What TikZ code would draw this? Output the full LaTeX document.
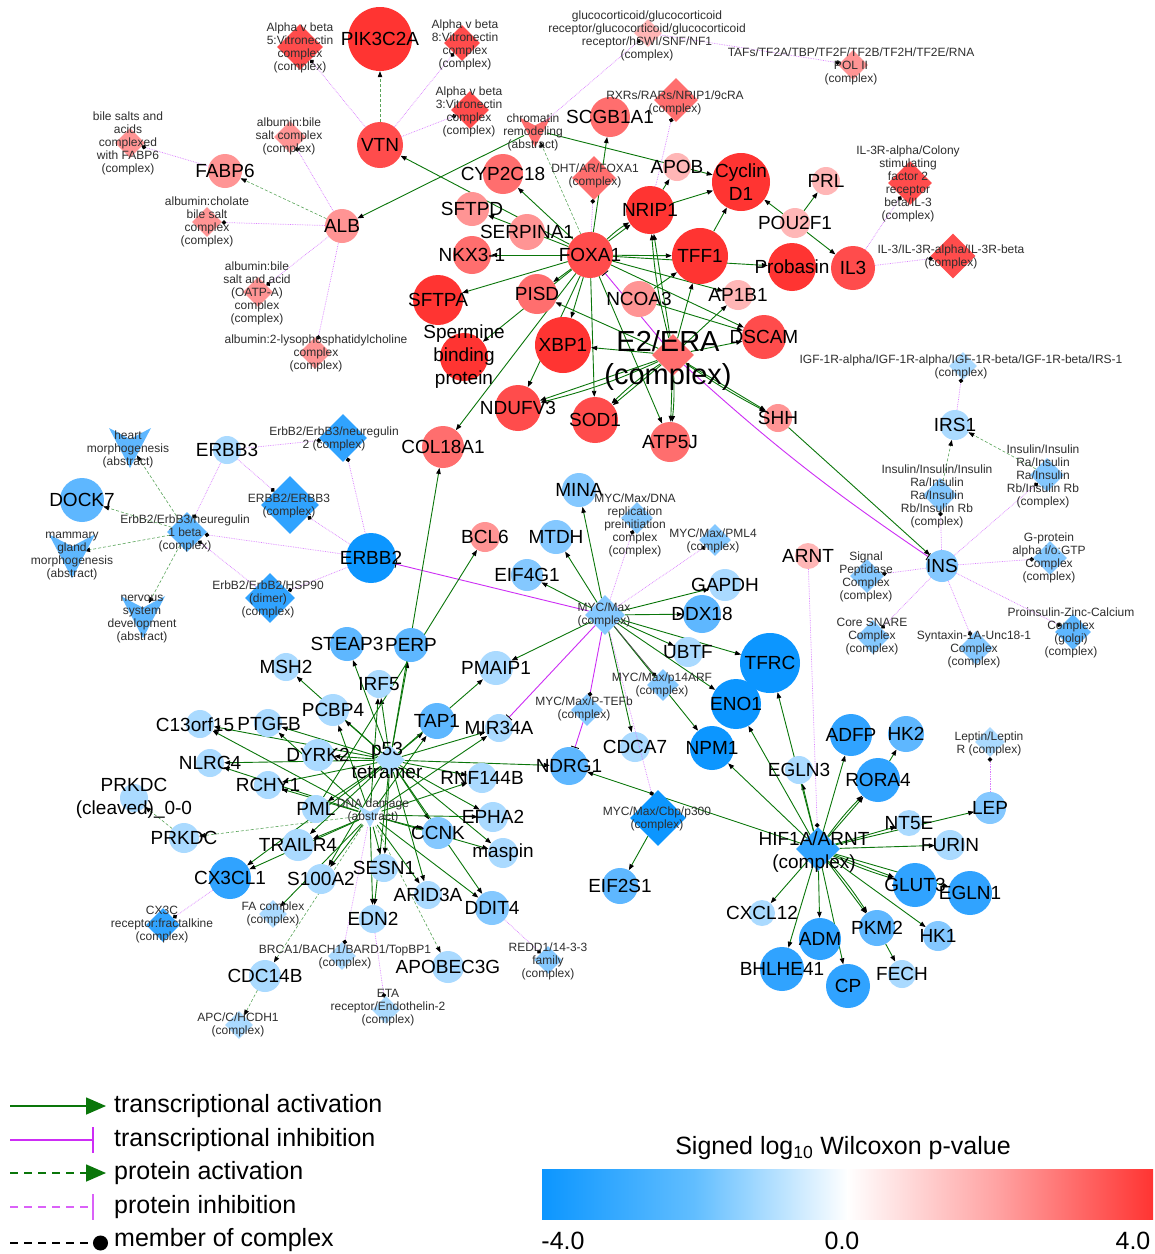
\documentclass[tikz,border=0pt]{standalone}
\usepackage{fontspec}
\setmainfont{Liberation Sans}
\usetikzlibrary{shapes.geometric,arrows.meta}
\pgfdeclarelayer{background}
\pgfdeclarelayer{fg}
\pgfsetlayers{background,main,fg}
\definecolor{rA}{RGB}{255,182,182}
\definecolor{rB}{RGB}{255,148,148}
\definecolor{rC}{RGB}{255,110,110}
\definecolor{rD}{RGB}{255,76,76}
\definecolor{rE}{RGB}{255,52,50}
\definecolor{bA}{RGB}{170,218,255}
\definecolor{bB}{RGB}{132,200,255}
\definecolor{bC}{RGB}{94,183,255}
\definecolor{bD}{RGB}{48,163,255}
\definecolor{bE}{RGB}{12,150,255}
\definecolor{tgreen}{RGB}{10,118,10}
\definecolor{pgreen}{RGB}{90,165,90}
\definecolor{tmag}{RGB}{205,45,245}
\definecolor{mmag}{RGB}{218,125,255}
\definecolor{cbB}{RGB}{98,190,255}
\definecolor{crB}{RGB}{255,160,160}
\tikzset{
 gc/.style={circle,draw=none,inner sep=0pt},
 dia/.style={diamond,draw=none,inner sep=0pt,aspect=1},
 inv/.style={circle,draw=none,inner sep=0pt,minimum size=24pt},
 glab/.style={font=\fontsize{19}{23}\selectfont,align=center,inner sep=0pt,text=black},
 slab/.style={font=\fontsize{12}{13}\selectfont,align=center,inner sep=0pt,text=black!82},
 bigl/.style={font=\fontsize{29}{33}\selectfont,align=center,inner sep=0pt,text=black},
 legl/.style={font=\fontsize{25}{28}\selectfont,anchor=west,inner sep=0pt,text=black},
 ta/.style={draw=tgreen,line width=0.9pt,-{Triangle[length=6pt,width=4.5pt,color=black]}},
 pa/.style={draw=pgreen,line width=0.6pt,densely dashed,-{Triangle[length=6pt,width=4.5pt,color=black]}},
 ti/.style={draw=tmag,line width=0.9pt,-{Bar[width=8pt,color=black]}},
 mem/.style={draw=mmag,line width=0.7pt,densely dotted,-{Circle[length=4.5pt,color=black]}},
}
\newcommand{\GeneN}[6]{\node[gc,minimum size=#4pt,fill=#5] (#1) at (#2,#3) {};%
 \begin{pgfonlayer}{fg}\node[glab] (#1-l) at (#2,#3) {#6};\end{pgfonlayer}}
\newcommand{\CplxN}[8]{\node[dia,minimum size=#4pt,fill=#5] (#1) at (#2,#3) {};%
 \begin{pgfonlayer}{fg}\node[slab] (#1-l) at (#6,#7) {#8};\end{pgfonlayer}}
\newcommand{\AbsN}[8]{\begin{scope}[shift={(#2,#3)},scale=#4]\fill[#5] (-21,-17) -- (0,-6) -- (21,-17) -- (0,23) -- cycle;\end{scope}%
 \node[inv] (#1) at (#2,#3) {};%
 \begin{pgfonlayer}{fg}\node[slab] (#1-l) at (#6,#7) {#8};\end{pgfonlayer}}
\begin{document}
\begin{tikzpicture}[x=1pt,y=-1pt]
\useasboundingbox (0,0) rectangle (1155,1254);
\begin{pgfonlayer}{background}
\fill[white] (0,0) rectangle (1155,1254);
\end{pgfonlayer}

% ---------------- red cluster ----------------
\GeneN{pik}{380}{39}{64}{rE}{PIK3C2A}
\GeneN{vtn}{380}{145}{46}{rD}{VTN}
\GeneN{fabp}{225}{171}{34}{rB}{FABP6}
\GeneN{alb}{342}{226}{34}{rB}{ALB}
\CplxN{avbfive}{300}{47}{46}{rD}{300}{48}{Alpha v beta\\5:Vitronectin\\complex\\(complex)}
\CplxN{avbeight}{462}{43}{36}{rD}{465}{45}{Alpha v beta\\8:Vitronectin\\complex\\(complex)}
\CplxN{avbthree}{470}{110}{38}{rD}{469}{112}{Alpha v beta\\3:Vitronectin\\complex\\(complex)}
\CplxN{bile}{130}{143}{30}{rB}{128}{143}{bile salts and\\acids\\complexed\\with FABP6\\(complex)}
\CplxN{albA}{290}{137}{32}{rB}{289}{136}{albumin:bile\\salt complex\\(complex)}
\CplxN{albB}{207}{222}{30}{rB}{207}{222}{albumin:cholate\\bile salt\\complex\\(complex)}
\CplxN{albC}{258}{292}{30}{rB}{257}{293}{albumin:bile\\salt and acid\\(OATP-A)\\complex\\(complex)}
\CplxN{albD}{315}{353}{32}{rB}{316}{353}{albumin:2-lysophosphatidylcholine\\complex\\(complex)}
\CplxN{gluc}{648}{33}{28}{rA}{647}{36}{glucocorticoid/glucocorticoid\\receptor/glucocorticoid/glucocorticoid\\receptor/hSWI/SNF/NF1\\(complex)}
\CplxN{taf}{853}{65}{30}{rB}{851}{66}{TAFs/TF2A/TBP/TF2F/TF2B/TF2H/TF2E/RNA\\POL II\\(complex)}
\CplxN{rxr}{676}{100}{44}{rC}{675}{103}{RXRs/RARs/NRIP1/9cRA\\(complex)}
\AbsN{chrom}{535}{130}{0.75}{rC}{533}{132}{chromatin\\remodeling\\(abstract)}
\GeneN{scgb}{610}{117}{40}{rC}{SCGB1A1}
\GeneN{cyp}{503}{174}{40}{rC}{CYP2C18}
\CplxN{dht}{594}{178}{44}{rC}{595}{176}{DHT/AR/FOXA1\\(complex)}
\GeneN{apob}{677}{167}{28}{rA}{APOB}
\GeneN{cyc}{741}{182}{58}{rE}{Cyclin\\D1}
\GeneN{nrip}{650}{210}{48}{rE}{NRIP1}
\GeneN{prl}{826}{181}{28}{rA}{PRL}
\GeneN{pou}{795}{223}{30}{rA}{POU2F1}
\GeneN{sftpd}{472}{209}{34}{rB}{SFTPD}
\GeneN{serp}{527}{232}{36}{rB}{SERPINA1}
\GeneN{nkx}{472}{255}{38}{rC}{NKX3-1}
\GeneN{foxa}{590}{255}{46}{rD}{FOXA1}
\GeneN{tff}{700}{256}{56}{rE}{TFF1}
\GeneN{prob}{792}{267}{48}{rE}{Probasin}
\GeneN{il3}{853}{268}{44}{rD}{IL3}
\CplxN{ilcA}{910}{183}{44}{rD}{908}{184}{IL-3R-alpha/Colony\\stimulating\\factor 2\\receptor\\beta/IL-3\\(complex)}
\CplxN{ilcB}{953}{256}{45}{rD}{951}{257}{IL-3/IL-3R-alpha/IL-3R-beta\\(complex)}
\GeneN{sftpa}{438}{300}{50}{rE}{SFTPA}
\GeneN{pisd}{537}{294}{40}{rC}{PISD}
\GeneN{ncoa}{639}{299}{36}{rB}{NCOA3}
\GeneN{apb}{738}{295}{30}{rA}{AP1B1}
\GeneN{xbp}{563}{345}{56}{rE}{XBP1}
\GeneN{sperm}{464}{357}{48}{rE}{Spermine\\binding\\protein}
\GeneN{dscam}{764}{337}{44}{rD}{DSCAM}
\node[dia,minimum size=42pt,fill=rC] (e2) at (673,355) {};
\begin{pgfonlayer}{fg}\node[bigl] (e2-l) at (668,360) {E2/ERA\\(complex)};\end{pgfonlayer}
\GeneN{ndufv}{518}{408}{46}{rD}{NDUFV3}
\GeneN{sod}{595}{420}{46}{rD}{SOD1}
\GeneN{atp}{670}{442}{40}{rC}{ATP5J}
\GeneN{col}{443}{447}{42}{rC}{COL18A1}
\GeneN{shh}{778}{418}{28}{rB}{SHH}

% ---------------- insulin cluster ----------------
\CplxN{igf}{963}{366}{28}{bA}{961}{367}{IGF-1R-alpha/IGF-1R-alpha/IGF-1R-beta/IGF-1R-beta/IRS-1\\(complex)}
\GeneN{irs}{955}{425}{30}{bA}{IRS1}
\CplxN{inscA}{940}{495}{34}{bB}{937}{496}{Insulin/Insulin/Insulin\\Ra/Insulin\\Ra/Insulin\\Rb/Insulin Rb\\(complex)}
\CplxN{inscB}{1047}{475}{34}{bB}{1043}{476}{Insulin/Insulin\\Ra/Insulin\\Ra/Insulin\\Rb/Insulin Rb\\(complex)}
\GeneN{ins}{942}{566}{32}{bB}{INS}
\CplxN{gprot}{1050}{558}{34}{bB}{1049}{558}{G-protein\\alpha i/o:GTP\\Complex\\(complex)}
\CplxN{sigp}{867}{576}{34}{bB}{866}{577}{Signal\\Peptidase\\Complex\\(complex)}
\CplxN{snare}{873}{637}{34}{bB}{872}{637}{Core SNARE\\Complex\\(complex)}
\CplxN{synt}{976}{648}{34}{bB}{974}{649}{Syntaxin-1A-Unc18-1\\Complex\\(complex)}
\CplxN{proins}{1073}{632}{36}{bC}{1071}{633}{Proinsulin-Zinc-Calcium\\Complex\\(golgi)\\(complex)}
\GeneN{arnt}{808}{556}{26}{rA}{ARNT}

% ---------------- ERBB cluster ----------------
\AbsN{heart}{130}{445}{1}{bC}{128}{449}{heart\\morphogenesis\\(abstract)}
\GeneN{erbbt}{227}{450}{28}{bA}{ERBB3}
\CplxN{nrgtwo}{343}{438}{48}{bD}{334}{439}{ErbB2/ErbB3/neuregulin\\2 (complex)}
\GeneN{dock}{82}{500}{44}{bC}{DOCK7}
\CplxN{erbbc}{290}{505}{58}{bD}{289}{506}{ERBB2/ERBB3\\(complex)}
\CplxN{nrgone}{187}{532}{40}{bC}{185}{533}{ErbB2/ErbB3/neuregulin\\1 beta\\(complex)}
\AbsN{mamm}{72}{553}{1.1}{bC}{72}{556}{mammary\\gland\\morphogenesis\\(abstract)}
\GeneN{erbbd}{371}{558}{50}{bE}{ERBB2}
\CplxN{hsp}{270}{598}{50}{bD}{268}{599}{ErbB2/ErbB2/HSP90\\(dimer)\\(complex)}
\AbsN{nerv}{143}{614}{1.05}{bC}{142}{619}{nervous\\system\\development\\(abstract)}

% ---------------- MYC cluster ----------------
\GeneN{mina}{579}{490}{34}{bB}{MINA}
\CplxN{mycdna}{637}{518}{32}{bB}{635}{525}{MYC/Max/DNA\\replication\\preinitiation\\complex\\(complex)}
\CplxN{mycpml}{715}{540}{32}{bB}{713}{541}{MYC/Max/PML4\\(complex)}
\GeneN{mtdh}{556}{537}{34}{bB}{MTDH}
\GeneN{bcl}{485}{537}{30}{rB}{BCL6}
\GeneN{eif}{527}{575}{32}{bB}{EIF4G1}
\GeneN{gapdh}{725}{585}{32}{bA}{GAPDH}
\CplxN{myc}{605}{615}{40}{bB}{604}{615}{MYC/Max\\(complex)}
\GeneN{ddx}{702}{614}{38}{bC}{DDX18}
\GeneN{ubtf}{688}{652}{30}{bA}{UBTF}
\GeneN{tfrc}{770}{663}{60}{bE}{TFRC}
\CplxN{pfour}{663}{685}{32}{bB}{662}{685}{MYC/Max/p14ARF\\(complex)}
\GeneN{pmaip}{496}{668}{34}{bA}{PMAIP1}
\GeneN{eno}{736}{704}{50}{bE}{ENO1}
\CplxN{ptefb}{587}{710}{32}{bB}{584}{709}{MYC/Max/P-TEFb\\(complex)}
\GeneN{cdca}{635}{747}{30}{bA}{CDCA7}
\GeneN{npm}{712}{748}{44}{bE}{NPM1}
\GeneN{ndrg}{569}{766}{38}{bC}{NDRG1}
\CplxN{cbp}{658}{818}{56}{bE}{657}{819}{MYC/Max/Cbp/p300\\(complex)}
\GeneN{eiff}{620}{886}{36}{bC}{EIF2S1}

% ---------------- p53 cluster ----------------
\GeneN{steap}{347}{644}{34}{bC}{STEAP3}
\GeneN{perp}{411}{645}{34}{bC}{PERP}
\GeneN{msh}{286}{667}{28}{bA}{MSH2}
\GeneN{irf}{379}{684}{28}{bA}{IRF5}
\GeneN{pcbp}{333}{710}{32}{bA}{PCBP4}
\GeneN{tap}{437}{721}{36}{bC}{TAP1}
\GeneN{mir}{499}{728}{28}{bA}{MIR34A}
\node[gc,minimum size=28pt,fill=bA] (cthirt) at (200,724) {};
\node[gc,minimum size=28pt,fill=bA] (ptgfb) at (268,723) {};
\begin{pgfonlayer}{fg}
\node[glab] (cthirt-l) at (195,725) {C13orf15};
\node[glab] (ptgfb-l) at (269,724) {PTGFB};
\end{pgfonlayer}
\GeneN{dyrk}{318}{755}{32}{bA}{DYRK2}
\node[dia,minimum size=30pt,fill=bA] (pft) at (390,760) {};
\begin{pgfonlayer}{fg}\node[glab] (pft-l) at (387,760) {p53\\tetramer};\end{pgfonlayer}
\GeneN{rnf}{482}{778}{30}{bA}{RNF144B}
\GeneN{nlrc}{210}{763}{28}{bA}{NLRC4}
\GeneN{rchy}{268}{785}{28}{bA}{RCHY1}
\GeneN{prkdcc}{134}{798}{28}{bA}{PRKDC\\(cleaved)\_0-0}
\GeneN{prkdc}{184}{838}{30}{bA}{PRKDC}
\GeneN{pml}{316}{809}{28}{bA}{PML}
\AbsN{dna}{370}{815}{0.55}{bA}{373}{811}{DNA damage\\(abstract)}
\GeneN{epha}{493}{817}{30}{bA}{EPHA2}
\GeneN{ccnk}{438}{833}{32}{bB}{CCNK}
\GeneN{maspin}{503}{853}{30}{bA}{maspin}
\GeneN{trail}{298}{845}{32}{bA}{TRAILR4}
\GeneN{cxc}{230}{878}{42}{bD}{CX3CL1}
\GeneN{s100}{321}{879}{30}{bA}{S100A2}
\GeneN{sesn}{384}{868}{28}{bA}{SESN1}
\GeneN{edn}{373}{919}{28}{bA}{EDN2}
\GeneN{arid}{428}{895}{28}{bA}{ARID3A}
\GeneN{ddit}{492}{908}{34}{bB}{DDIT4}
\CplxN{cxr}{163}{925}{34}{bD}{162}{925}{CX3C\\receptor:fractalkine\\(complex)}
\CplxN{fac}{273}{914}{28}{bA}{273}{914}{FA complex\\(complex)}
\CplxN{brca}{342}{956}{28}{bA}{345}{957}{BRCA1/BACH1/BARD1/TopBP1\\(complex)}
\GeneN{cdc}{265}{976}{32}{bA}{CDC14B}
\CplxN{apc}{239}{1025}{28}{bA}{238}{1025}{APC/C/HCDH1\\(complex)}
\CplxN{eta}{386}{1010}{28}{bA}{388}{1008}{ETA\\receptor/Endothelin-2\\(complex)}
\GeneN{apobec}{448}{967}{32}{bA}{APOBEC3G}
\CplxN{redd}{548}{960}{28}{bB}{548}{961}{REDD1/14-3-3\\family\\(complex)}

% ---------------- HIF cluster ----------------
\GeneN{egln}{799}{770}{28}{bA}{EGLN3}
\GeneN{adfp}{851}{735}{42}{bD}{ADFP}
\GeneN{hktwo}{906}{734}{36}{bC}{HK2}
\GeneN{rora}{878}{780}{44}{bD}{RORA4}
\CplxN{lepc}{990}{742}{30}{bA}{989}{744}{Leptin/Leptin\\R (complex)}
\GeneN{lep}{990}{808}{32}{bB}{LEP}
\GeneN{nt}{909}{823}{26}{bA}{NT5E}
\node[dia,minimum size=44pt,fill=bD] (hif) at (818,849) {};
\begin{pgfonlayer}{fg}\node[glab] (hif-l) at (814,852) {HIF1A/ARNT\\(complex)};\end{pgfonlayer}
\GeneN{furin}{950}{845}{30}{bA}{FURIN}
\GeneN{glut}{915}{885}{44}{bD}{GLUT3}
\GeneN{eglnone}{970}{893}{44}{bD}{EGLN1}
\GeneN{cxcl}{762}{913}{26}{bA}{CXCL12}
\GeneN{pkm}{877}{928}{36}{bC}{PKM2}
\GeneN{hkone}{938}{936}{30}{bB}{HK1}
\GeneN{adm}{820}{939}{42}{bD}{ADM}
\GeneN{bhl}{782}{969}{44}{bD}{BHLHE41}
\GeneN{cp}{848}{986}{44}{bD}{CP}
\GeneN{fech}{902}{974}{28}{bA}{FECH}

% ---------------- edges (background) ----------------
\begin{pgfonlayer}{background}
\foreach \t in {vtn,cyp,sftpd,nkx,sftpa,pisd,scgb,nrip,tff,prob,xbp,sod,atp,dscam,apb,ndufv,col,sperm}
  \draw[ta] (foxa) -- (\t);
\draw[ta] (foxa) to[bend left=6] (nrip);
\foreach \t in {nrip,tff,xbp,pisd,ndufv,sod,atp,shh,dscam,apb}
  \draw[ta] (e2) -- (\t);
\draw[ta] (e2) to[bend left=5] (ndufv);
\draw[ta] (e2) to[bend right=5] (sod);
\draw[ta] (e2) to[bend left=4] (atp);
\draw[ta] (e2) to[bend right=3] (shh);
\draw[ta] (e2) to[bend left=5] (nrip);
\draw[ta] (ncoa) -- (tff);
\draw[ta] (ncoa) -- (dscam);
\draw[ta] (tff) -- (cyc);
\draw[ta] (nrip) -- (cyc);
\draw[ta] (nrip) -- (apob);
\draw[ta] (pou) -- (cyc);
\draw[ta] (pou) -- (prl);
\draw[ta] (pou) -- (il3);
\draw[ta] (chrom) -- (alb);
\draw[ta] (chrom) -- (cyc);
\draw[pa] (foxa) -- (chrom);
\draw[pa] (vtn) -- (pik);
\draw[pa] (alb) -- (fabp);
\draw[ta] (shh) -- (ins);
\draw[ti] (e2) -- (foxa);
\draw[ti] (e2) to[bend right=4] (ins);
% ERBB
\draw[pa] (nrgone) -- (heart);
\draw[pa] (nrgone) -- (dock);
\draw[pa] (nrgone) -- (mamm);
\draw[pa] (nrgone) -- (nerv);
\draw[pa] (inscA) -- (irs);
\draw[pa] (inscB) -- (irs);
% MYC
\foreach \t in {mina,mtdh,eif,gapdh,ddx,ubtf,tfrc,eno,npm,pmaip,cdca}
  \draw[ta] (myc) -- (\t);
\draw[ti] (myc) -- (erbbd);
\draw[ti] (myc) -- (mir);
\draw[ti] (ptefb) -- (ndrg);
\draw[ta] (cbp) -- (eiff);
\draw[ta] (hif) -- (ndrg);
% HIF
\foreach \t in {egln,adfp,rora,nt,lep,furin,glut,eglnone,hkone,pkm,adm,cp,bhl,cxcl,npm,eno,tfrc}
  \draw[ta] (hif) -- (\t);
\draw[ta] (hif) to[bend left=4] (rora);
\draw[ta] (hif) to[bend right=4] (glut);
\draw[ta] (hif) to[bend left=4] (pkm);
\draw[ta] (rora) -- (hktwo);
\draw[ta] (pkm) -- (fech);
% p53
\foreach \t in {steap,perp,msh,irf,pcbp,tap,pmaip,mir,cthirt,ptgfb,dyrk,nlrc,rchy,rnf,ndrg,epha,maspin,ccnk,ddit,arid,sesn,edn,s100,trail,cxc,pml,col}
  \draw[ta] (pft) -- (\t);
\foreach \t in {cthirt,ptgfb,nlrc,rchy,trail,cxc,s100,sesn,edn,arid,ddit,ccnk,epha,rnf,mir,tap,irf,pcbp,fac,maspin}
  \draw[ta] (dna) -- (\t);
\draw[ta] (pml) -- (bcl);
\draw[pa] (dna) -- (prkdc);
\draw[pa] (prkdc) -- (prkdcc);
\draw[pa] (dna) -- (cdc);
\draw[pa] (cdc) -- (apc);
\draw[pa] (dna) -- (apobec);
\end{pgfonlayer}

% ---------------- member-of-complex edges ----------------
\draw[mem] (vtn) -- (avbfive);
\draw[mem] (vtn) -- (avbeight);
\draw[mem] (vtn) -- (avbthree);
\draw[mem] (fabp) -- (bile);
\draw[mem] (alb) -- (albA);
\draw[mem] (alb) -- (albB);
\draw[mem] (alb) -- (albC);
\draw[mem] (alb) -- (albD);
\draw[mem] (chrom) -- (gluc);
\draw[mem] (gluc) -- (taf);
\draw[mem] (nrip) -- (rxr);
\draw[mem] (foxa) -- (dht);
\draw[mem] (il3) -- (ilcA);
\draw[mem] (il3) -- (ilcB);
\draw[mem] (irs) -- (igf);
\foreach \t in {inscA,inscB,gprot,sigp,snare,synt,proins}
  \draw[mem] (ins) -- (\t);
\draw[mem] (arnt) -- (hif);
\draw[mem] (erbbt) -- (nrgone);
\draw[mem] (erbbt) -- (nrgtwo);
\draw[mem] (erbbt) -- (erbbc);
\draw[mem] (erbbd) -- (nrgtwo);
\draw[mem] (erbbd) -- (erbbc);
\draw[mem] (erbbd) -- (nrgone);
\draw[mem] (erbbd) -- (hsp);
\draw[mem] (hsp) -- (nrgone);
\draw[mem] (myc) -- (mycdna);
\draw[mem] (myc) -- (mycpml);
\draw[mem] (myc) -- (cbp);
\draw[mem,draw=black!70,solid] (myc) -- (pfour);
\draw[mem,draw=tmag,solid,line width=0.9pt] (myc) -- (ptefb);
\draw[mem] (cxc) -- (cxr);
\draw[mem] (dna) -- (brca);
\draw[mem] (edn) -- (eta);
\draw[mem] (ddit) -- (redd);
\draw[mem] (lep) -- (lepc);

% ---------------- legend ----------------
\coordinate (la1) at (10,1106); \coordinate (lb1) at (106,1106);
\coordinate (la2) at (10,1140); \coordinate (lb2) at (94,1140);
\coordinate (la3) at (10,1173); \coordinate (lb3) at (106,1173);
\coordinate (la4) at (10,1207); \coordinate (lb4) at (94,1207);
\coordinate (la5) at (10,1243); \coordinate (lb5) at (108,1243);
\draw[tgreen,line width=1.6pt,-{Triangle[length=20pt,width=17pt]}] (la1) -- (lb1);
\draw[tmag,line width=1.6pt,-{Bar[width=26pt]}] (la2) -- (lb2);
\draw[tgreen,line width=1.6pt,dash pattern=on 8pt off 6pt,-{Triangle[length=20pt,width=17pt]}] (la3) -- (lb3);
\draw[tmag!75,line width=1.6pt,dash pattern=on 8pt off 6pt,-{Bar[width=26pt]}] (la4) -- (lb4);
\draw[black,line width=1.6pt,dash pattern=on 8pt off 6pt,-{Circle[length=15pt]}] (la5) -- (lb5);
\node[legl] (lt1) at (114,1106) {transcriptional activation};
\node[legl] (lt2) at (114,1140) {transcriptional inhibition};
\node[legl] (lt3) at (114,1173) {protein activation};
\node[legl] (lt4) at (114,1207) {protein inhibition};
\node[legl] (lt5) at (114,1240) {member of complex};

% ---------------- colour bar ----------------
\shade[left color=bE,right color=cbB] (542,1169) rectangle (696,1219);
\shade[left color=cbB,right color=white] (695,1169) rectangle (848,1219);
\shade[left color=white,right color=crB] (847,1169) rectangle (1001,1219);
\shade[left color=crB,right color=rE] (1000,1169) rectangle (1153,1219);
\node[font=\fontsize{25}{28}\selectfont,inner sep=0pt] (cbt) at (843,1148) {Signed log\textsubscript{10} Wilcoxon p-value};
\node[font=\fontsize{25}{28}\selectfont,inner sep=0pt] (tk1) at (563,1241) {-4.0};
\node[font=\fontsize{25}{28}\selectfont,inner sep=0pt] (tk2) at (842,1241) {0.0};
\node[font=\fontsize{25}{28}\selectfont,inner sep=0pt] (tk3) at (1133,1241) {4.0};
\end{tikzpicture}
\end{document}
